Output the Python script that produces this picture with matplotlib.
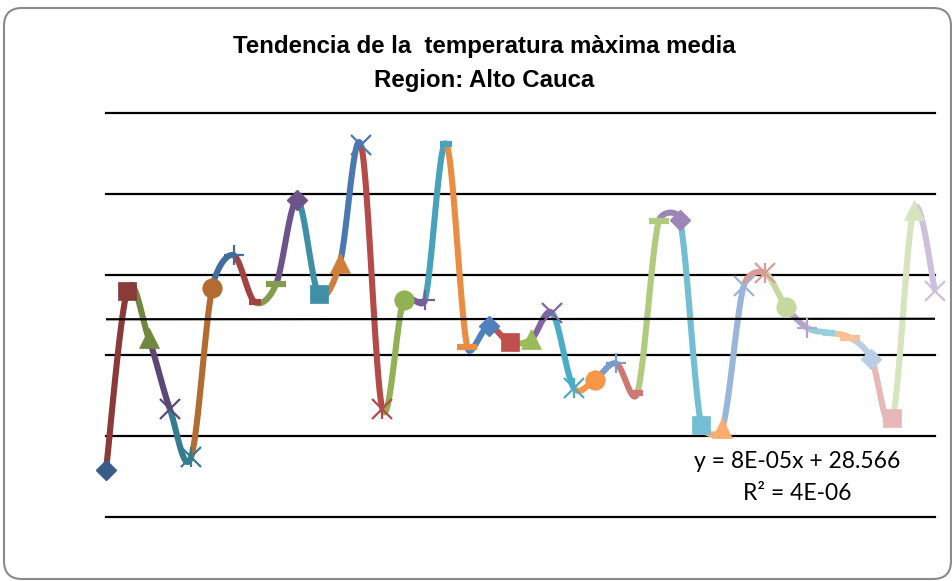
import numpy as np
import matplotlib.pyplot as plt
from matplotlib.patches import FancyBboxPatch
from matplotlib.colors import to_rgb

# --- Data ---
years = np.arange(1970, 2010)
temp_max = [27.79, 28.90, 28.61, 28.17, 27.87, 28.92, 29.12, 28.83, 28.94, 29.46,
            28.88, 29.07, 29.80, 28.17, 28.84, 28.84, 29.81, 28.55, 28.68, 28.58,
            28.60, 28.76, 28.30, 28.35, 28.45, 28.27, 29.33, 29.34, 28.07, 28.05,
            28.93, 29.01, 28.80, 28.67, 28.64, 28.61, 28.48, 28.11, 29.40, 28.90]
trend_slope = 8e-05
trend_intercept = 28.566
grid_values = [27.5, 28.0, 28.5, 29.0, 29.5, 30.0]

title_lines = ["Tendencia de la  temperatura m\u00e0xima media", "Region: Alto Cauca"]
trend_labels = ["y = 8E-05x + 28.566", "R\u00b2 = 4E-06"]

# --- Excel style "vary colors by point" palette ---
accents = ['#4F81BD', '#C0504D', '#9BBB59', '#8064A2', '#4BACC6', '#F79646']
group_tints = [-0.28, -0.16, -0.06, 0.0, 0.22, 0.42, 0.6]


def point_color(i):
    base = np.array(to_rgb(accents[i % 6]))
    t = group_tints[i // 6]
    if t < 0:
        return tuple(base * (1 + t))
    return tuple(base + (1 - base) * t)


# marker cycle: diamond, square, triangle, x, star, circle, plus, short dash, long dash
marker_cycle = [
    [('D', 10, 1)],
    [('s', 13.5, 0.5)],
    [('^', 14, 0.5)],
    [('x', 14, 1.6)],
    [('x', 14, 1.6), ('|', 14, 1.6)],
    [('o', 14, 0.5)],
    [('+', 14, 1.6)],
    [('_', 8.5, 4.5)],
    [('_', 15, 4.5)],
]

# --- smoothing like Excel (bezier, 1/6 rule, capped) in pixel units ---
XS = 829 / 39.0
YS = 161.6
P = np.column_stack([(years - years[0]) * XS, np.array(temp_max) * YS])
n = len(P)


def ctrl_offset(a, b, seg_len):
    d = (b - a) / 6.0
    L = np.hypot(*d)
    cap = 0.5 * seg_len
    if L > cap and L > 0:
        d = d * cap / L
    return d


def segment(i, steps=40):
    p0 = P[max(i - 1, 0)]
    p1 = P[i]
    p2 = P[i + 1]
    p3 = P[min(i + 2, n - 1)]
    seg_len = np.hypot(*(p2 - p1))
    c1 = p1 + ctrl_offset(p0, p2, seg_len)
    c2 = p2 - ctrl_offset(p1, p3, seg_len)
    t = np.linspace(0, 1, steps)[:, None]
    b = (1 - t) ** 3 * p1 + 3 * (1 - t) ** 2 * t * c1 + 3 * (1 - t) * t ** 2 * c2 + t ** 3 * p2
    return b[:, 0] / XS + years[0], b[:, 1] / YS


fig = plt.figure(figsize=(9.53, 5.81), dpi=100)

# rounded frame round the chart
frame = FancyBboxPatch((0.04, 0.02), 9.47, 5.71, boxstyle="round,pad=0,rounding_size=0.18",
                       transform=fig.dpi_scale_trans, facecolor='none',
                       edgecolor='#8a8a8a', linewidth=1.5, zorder=-1)
fig.patches.append(frame)

ax = fig.add_axes([106 / 953, 64 / 581, 829 / 953, 404 / 581])
ax.set_facecolor('none')
ax.set_xlim(years[0], years[-1])
ax.set_ylim(grid_values[0], grid_values[-1])
for s in ax.spines.values():
    s.set_visible(False)
ax.set_xticks([])
ax.set_yticks([])

for g in grid_values:
    ax.axhline(g, color='black', lw=1.6, zorder=1, clip_on=False)

# line segments, each in the colour of the point it runs to
for i in range(n - 1):
    sx, sy = segment(i)
    ax.plot(sx, sy, color=point_color(i + 1), lw=4.4, solid_capstyle='butt',
            zorder=2, clip_on=False)

# trendline
ax.plot(years, trend_intercept + trend_slope * years, color='black', lw=1.6, zorder=3)

# markers
for i in range(n):
    c = point_color(i)
    for m, ms, mew in marker_cycle[i % len(marker_cycle)]:
        ax.plot(years[i], temp_max[i], linestyle='none', marker=m, markersize=ms,
                markeredgewidth=mew, color=c, markerfacecolor=c, markeredgecolor=c,
                zorder=4, clip_on=False)

# titles
for k, yy in enumerate([46, 80]):
    fig.text(484 / 953, 1 - yy / 581, title_lines[k], ha='center', va='center',
             fontsize=17.3, fontweight='bold', family=['Liberation Sans Narrow', 'Liberation Sans'])

# trend equation
for k, yy in enumerate([461, 493]):
    fig.text(797 / 953, 1 - yy / 581, trend_labels[k], ha='center', va='center',
             fontsize=16.5, family=['Lato', 'DejaVu Sans'])

fig.savefig('out.png', dpi=100)
